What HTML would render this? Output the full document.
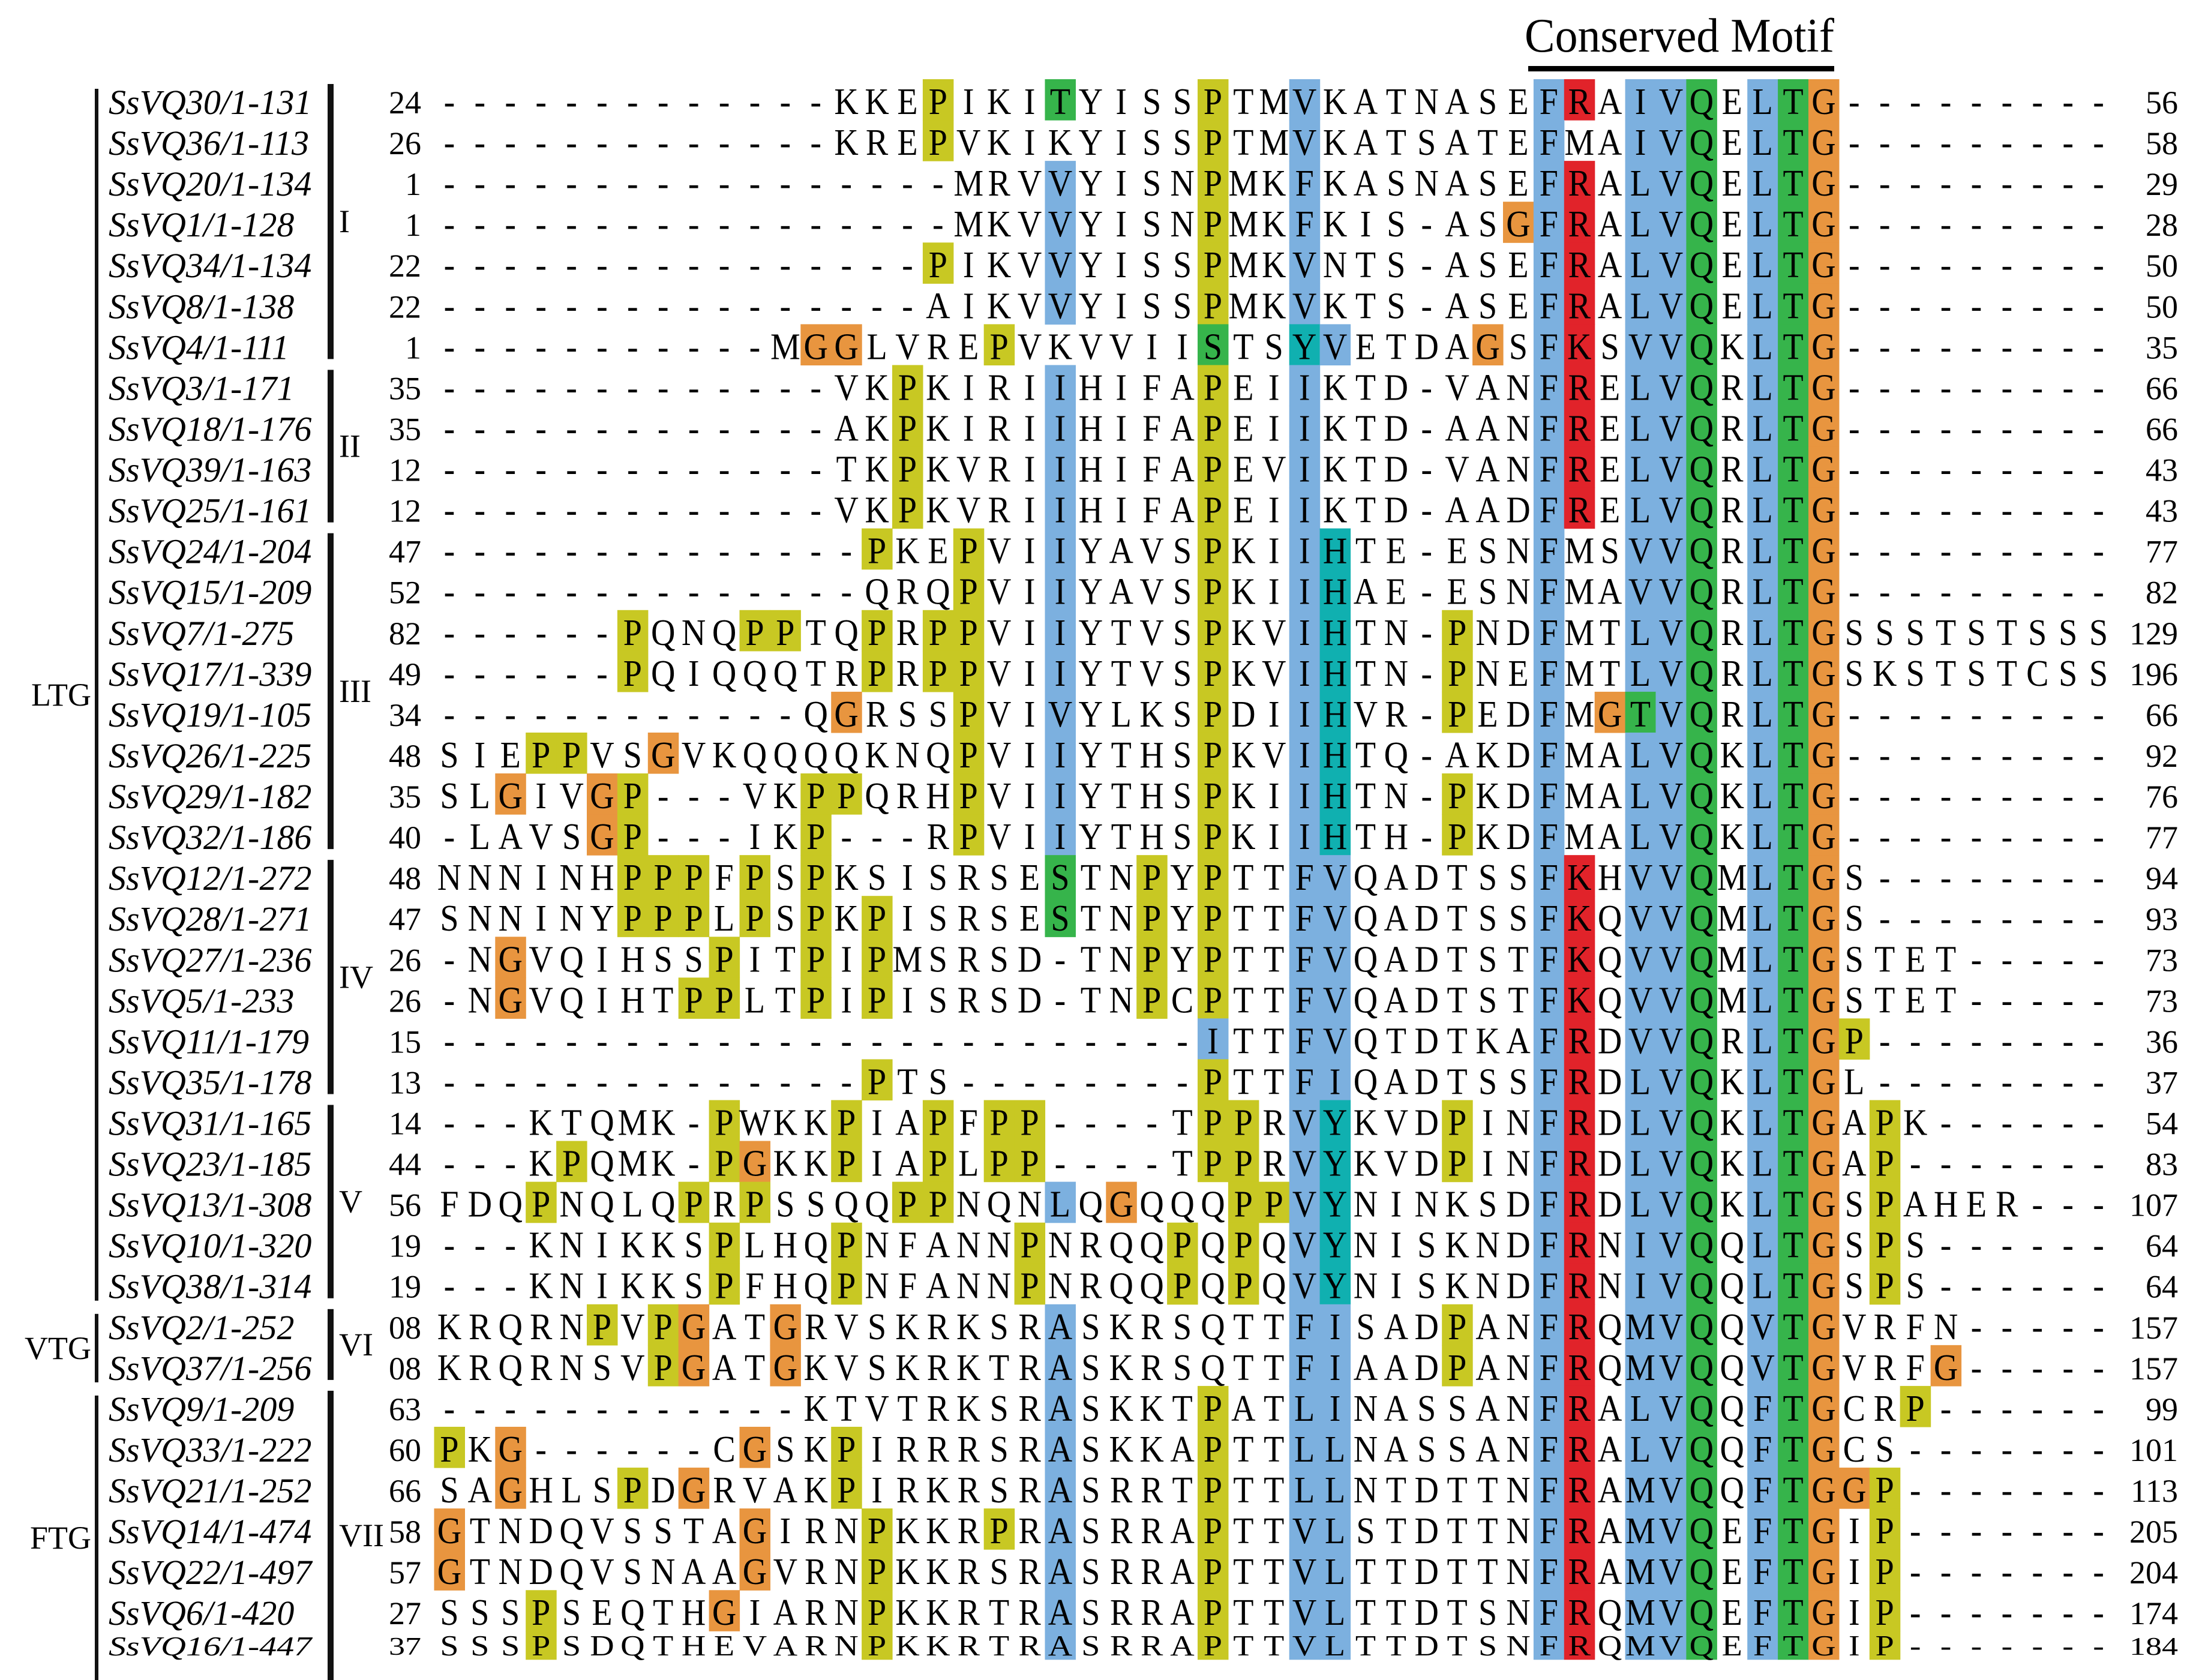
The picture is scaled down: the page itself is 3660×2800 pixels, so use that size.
<!DOCTYPE html>
<html><head><meta charset="utf-8">
<style>
html,body{margin:0;padding:0;background:#fff;}
svg{display:block;}
.seq{font-family:"Liberation Serif",serif;font-size:56px;fill:#000;}
.num{font-family:"Liberation Serif",serif;font-size:54px;fill:#000;}
.nm{font-family:"Liberation Serif",serif;font-style:italic;font-size:58px;fill:#000;}
.grp{font-family:"Liberation Serif",serif;font-size:54px;fill:#000;}
</style></head>
<body>
<svg id="fig" width="3660" height="2800" viewBox="0 0 3660 2800" xmlns="http://www.w3.org/2000/svg">
<text x="2541" y="86" textLength="516" lengthAdjust="spacingAndGlyphs" style="font-family:'Liberation Serif',serif;font-size:80px;">Conserved Motif</text>
<rect x="2547" y="110" width="510" height="9" fill="#000"/>
<g id="cells"></g>
<g id="letters"></g>
<g id="labels"></g>
<g id="brackets"></g>
</svg>
<script>
const names = ["SsVQ30/1-131","SsVQ36/1-113","SsVQ20/1-134","SsVQ1/1-128","SsVQ34/1-134","SsVQ8/1-138","SsVQ4/1-111","SsVQ3/1-171","SsVQ18/1-176","SsVQ39/1-163","SsVQ25/1-161","SsVQ24/1-204","SsVQ15/1-209","SsVQ7/1-275","SsVQ17/1-339","SsVQ19/1-105","SsVQ26/1-225","SsVQ29/1-182","SsVQ32/1-186","SsVQ12/1-272","SsVQ28/1-271","SsVQ27/1-236","SsVQ5/1-233","SsVQ11/1-179","SsVQ35/1-178","SsVQ31/1-165","SsVQ23/1-185","SsVQ13/1-308","SsVQ10/1-320","SsVQ38/1-314","SsVQ2/1-252","SsVQ37/1-256","SsVQ9/1-209","SsVQ33/1-222","SsVQ21/1-252","SsVQ14/1-474","SsVQ22/1-497","SsVQ6/1-420","SsVQ16/1-447"];
const startNums = ["24","26","1","1","22","22","1","35","35","12","12","47","52","82","49","34","48","35","40","48","47","26","26","15","13","14","44","56","19","19","08","08","63","60","66","58","57","27","37"];
const endNums = ["56","58","29","28","50","50","35","66","66","43","43","77","82","129","196","66","92","76","77","94","93","73","73","36","37","54","83","107","64","64","157","157","99","101","113","205","204","174","184"];
const seqs = [
"-------------KKEPIKITYISSPTMVKATNASEFRAIVQELTG---------",
"-------------KREPVKIKYISSPTMVKATSATEFMAIVQELTG---------",
"-----------------MRVVYISNPMKFKASNASEFRALVQELTG---------",
"-----------------MKVVYISNPMKFKIS-ASGFRALVQELTG---------",
"----------------PIKVVYISSPMKVNTS-ASEFRALVQELTG---------",
"----------------AIKVVYISSPMKVKTS-ASEFRALVQELTG---------",
"-----------MGGLVREPVKVVIISTSYVETDAGSFKSVVQKLTG---------",
"-------------VKPKIRIIHIFAPEIIKTD-VANFRELVQRLTG---------",
"-------------AKPKIRIIHIFAPEIIKTD-AANFRELVQRLTG---------",
"-------------TKPKVRIIHIFAPEVIKTD-VANFRELVQRLTG---------",
"-------------VKPKVRIIHIFAPEIIKTD-AADFRELVQRLTG---------",
"--------------PKEPVIIYAVSPKIIHTE-ESNFMSVVQRLTG---------",
"--------------QRQPVIIYAVSPKIIHAE-ESNFMAVVQRLTG---------",
"------PQNQPPTQPRPPVIIYTVSPKVIHTN-PNDFMTLVQRLTGSSSTSTSSS",
"------PQIQQQTRPRPPVIIYTVSPKVIHTN-PNEFMTLVQRLTGSKSTSTCSS",
"------------QGRSSPVIVYLKSPDIIHVR-PEDFMGTVQRLTG---------",
"SIEPPVSGVKQQQQKNQPVIIYTHSPKVIHTQ-AKDFMALVQKLTG---------",
"SLGIVGP---VKPPQRHPVIIYTHSPKIIHTN-PKDFMALVQKLTG---------",
"-LAVSGP---IKP---RPVIIYTHSPKIIHTH-PKDFMALVQKLTG---------",
"NNNINHPPPFPSPKSISRSESTNPYPTTFVQADTSSFKHVVQMLTGS--------",
"SNNINYPPPLPSPKPISRSESTNPYPTTFVQADTSSFKQVVQMLTGS--------",
"-NGVQIHSSPITPIPMSRSD-TNPYPTTFVQADTSTFKQVVQMLTGSTET-----",
"-NGVQIHTPPLTPIPISRSD-TNPCPTTFVQADTSTFKQVVQMLTGSTET-----",
"-------------------------ITTFVQTDTKAFRDVVQRLTGP--------",
"--------------PTS--------PTTFIQADTSSFRDLVQKLTGL--------",
"---KTQMK-PWKKPIAPFPP----TPPRVYKVDPINFRDLVQKLTGAPK------",
"---KPQMK-PGKKPIAPLPP----TPPRVYKVDPINFRDLVQKLTGAP-------",
"FDQPNQLQPRPSSQQPPNQNLQGQQQPPVYNINKSDFRDLVQKLTGSPAHER---",
"---KNIKKSPLHQPNFANNPNRQQPQPQVYNISKNDFRNIVQQLTGSPS------",
"---KNIKKSPFHQPNFANNPNRQQPQPQVYNISKNDFRNIVQQLTGSPS------",
"KRQRNPVPGATGRVSKRKSRASKRSQTTFISADPANFRQMVQQVTGVRFN-----",
"KRQRNSVPGATGKVSKRKTRASKRSQTTFIAADPANFRQMVQQVTGVRFG-----",
"------------KTVTRKSRASKKTPATLINASSANFRALVQQFTGCRP------",
"PKG------CGSKPIRRRSRASKKAPTTLLNASSANFRALVQQFTGCS-------",
"SAGHLSPDGRVAKPIRKRSRASRRTPTTLLNTDTTNFRAMVQQFTGGP-------",
"GTNDQVSSTAGIRNPKKRPRASRRAPTTVLSTDTTNFRAMVQEFTGIP-------",
"GTNDQVSNAAGVRNPKKRSRASRRAPTTVLTTDTTNFRAMVQEFTGIP-------",
"SSSPSEQTHGIARNPKKRTRASRRAPTTVLTTDTSNFRQMVQEFTGIP-------",
"SSSPSDQTHEVARNPKKRTRASRRAPTTVLTTDTSNFRQMVQEFTGIP-------"];
const highlights = [
"17y 21g 26y 29b 38r","17y 26y 29b","21b 26y 29b 38r","21b 26y 29b 36o 38r","17y 21b 26y 29b 38r","21b 26y 29b 38r",
"13o 14o 19y 26g 29c 30b 35o 38r",
"16y 21b 26y 29b 38r","16y 21b 26y 29b 38r","16y 21b 26y 29b 38r","16y 21b 26y 29b 38r",
"15y 18y 21b 26y 29b 30c","18y 21b 26y 29b 30c",
"7y 11y 12y 15y 17y 18y 21b 26y 29b 30c 34y","7y 15y 17y 18y 21b 26y 29b 30c 34y",
"14o 18y 21b 26y 29b 30c 34y 39o 40g",
"4y 5y 8o 18y 21b 26y 29b 30c","3o 6o 7y 13y 14y 18y 21b 26y 29b 30c 34y","6o 7y 13y 18y 21b 26y 29b 30c 34y",
"7y 8y 9y 11y 13y 21g 24y 26y 29b 30b 38r","7y 8y 9y 11y 13y 15y 21g 24y 26y 29b 30b 38r",
"3o 10y 13y 15y 24y 26y 29b 30b 38r","3o 9y 10y 13y 15y 24y 26y 29b 30b 38r",
"26b 29b 30b 38r 47y","15y 26y 29b 30b 38r",
"10y 14y 17y 19y 20y 26y 27y 29b 30c 34y 38r 48y","5y 10y 11o 14y 17y 19y 20y 26y 27y 29b 30c 34y 38r 48y",
"4y 9y 11y 16y 17y 21b 23o 27y 28y 29b 30c 38r 48y","10y 14y 20y 25y 27y 29b 30c 38r 48y","10y 14y 20y 25y 27y 29b 30c 38r 48y",
"6y 8y 9o 12o 21b 29b 30b 34y 38r","8y 9o 12o 21b 29b 30b 34y 38r 50o",
"21b 26y 29b 30b 38r 49y","1y 3o 11o 14y 21b 26y 29b 30b 38r","3o 7y 9o 14y 21b 26y 29b 30b 38r 47o 48y",
"1o 11o 15y 19y 21b 26y 29b 30b 38r 48y","1o 11o 15y 21b 26y 29b 30b 38r 48y",
"4y 10o 15y 21b 26y 29b 30b 38r 48y","4y 15y 21b 26y 29b 30b 38r 48y"];
const conservedCols = "37b 40b 41b 42g 44b 45g 46o";
const outerGroupLabels = ["LTG","VTG","FTG"];
const outerGroupRows = [[0,29],[30,31],[32,38]];
const innerGroupLabels = ["I","II","III","IV","V","VI","VII"];
const innerGroupRows = [[0,6],[7,10],[11,18],[19,24],[25,29],[30,31],[32,38]];

const NS="http://www.w3.org/2000/svg";
const COL={y:"#c8c823",b:"#7cb0df",g:"#36b44b",o:"#e8953f",r:"#e1232a",c:"#10b0b0"};
const X0=723.5, CW=50.9, Y0=132, RH=68.06;
function colX(c){return X0+(c-1)*CW;}
function rowTop(r){return Y0+r*RH;}
function mk(tag,attrs,parent){const e=document.createElementNS(NS,tag);for(const k in attrs)e.setAttribute(k,attrs[k]);parent.appendChild(e);return e;}
const cells=document.getElementById('cells'),letters=document.getElementById('letters'),labels=document.getElementById('labels'),br=document.getElementById('brackets');
const last=seqs.length-1;
seqs.forEach((s,r)=>{
  const hl=(highlights[r]+" "+conservedCols).trim().split(/\s+/);
  const map={};
  hl.forEach(h=>{const c=parseInt(h);const k=h.slice(-1);if(map[c]===undefined)map[c]=k;});
  const top=rowTop(r), h=(r===last)?48:RH+0.6;
  for(const c in map){
    const rc=mk('rect',{x:colX(+c),y:top,width:CW+0.6,height:h,fill:COL[map[c]]},cells);
    
    
  }
  const sq=(r===last)?0.78:1;
  const base=(r===last)?2759:top+58;
  const g=mk('g',{transform:`translate(0,${base}) scale(1,${sq*1.12})`},letters);
  
  
  for(let i=0;i<s.length;i++){
    const t=mk('text',{x:colX(i+1)+CW/2,y:0,'text-anchor':'middle','class':'seq'},g);
    t.textContent=s[i];
  }
  const lg=mk('g',{transform:`translate(0,${base}) scale(1,${sq})`},labels);
  
  
  const nm=mk('text',{x:181,y:0,'class':'nm'},lg);nm.textContent=names[r];
  
  
  const sn=mk('text',{x:702,y:-1,'text-anchor':'end','class':'num'},lg);sn.textContent=startNums[r];
  
  
  const en=mk('text',{x:3630,y:-1,'text-anchor':'end','class':'num'},lg);en.textContent=endNums[r];
  
  
});
function yEnd(r){return r===last?2800:rowTop(r)+RH;}
outerGroupRows.forEach((g,i)=>{
  const y1=rowTop(g[0])+16,y2=yEnd(g[1])-(g[1]===last?0:6);
  const ln=mk('rect',{x:158,y:y1,width:6,height:y2-y1,fill:'#111'},br);
  
  
  const t=mk('text',{x:152,y:(y1+y2)/2+18,'text-anchor':'end','class':'grp'},br);
  t.textContent=outerGroupLabels[i];
  
  
});
innerGroupRows.forEach((g,i)=>{
  const y1=rowTop(g[0])+8,y2=yEnd(g[1])-(g[1]===last?0:10);
  const ln=mk('rect',{x:546,y:y1,width:10,height:y2-y1,fill:'#111'},br);
  
  
  const t=mk('text',{x:565,y:(y1+y2)/2+18,'class':'grp'},br);
  t.textContent=innerGroupLabels[i];
  
  
});
</script>
</body></html>
